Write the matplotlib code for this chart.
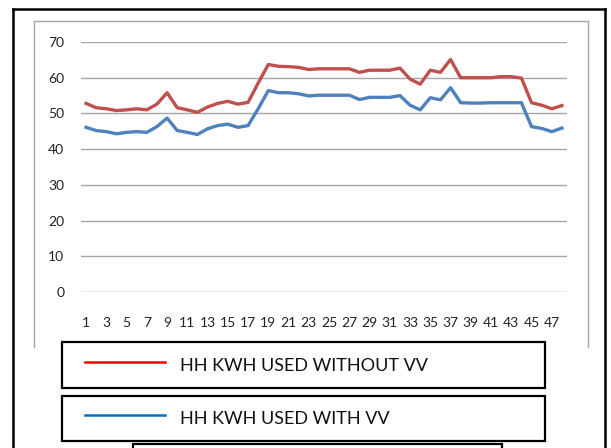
import numpy as np
import matplotlib
matplotlib.use('Agg')
import matplotlib.pyplot as plt
from matplotlib.lines import Line2D
from matplotlib.patches import Rectangle

plt.rcParams['font.family'] = ['Lato', 'DejaVu Sans']

# half-hour intervals 1..48
hours = np.arange(1, 49)
without_vv = [52.8, 51.6, 51.3, 50.8, 51.0, 51.3, 51.0, 52.6, 55.8, 51.6, 51.0, 50.3,
              51.8, 52.8, 53.4, 52.6, 53.1, 58.5, 63.7, 63.2, 63.1, 62.9, 62.3, 62.5,
              62.5, 62.5, 62.5, 61.5, 62.1, 62.1, 62.1, 62.7, 59.6, 58.2, 62.1, 61.5,
              65.1, 60.0, 60.0, 60.0, 60.0, 60.3, 60.3, 59.9, 53.0, 52.3, 51.3, 52.2]
with_vv = [46.1, 45.2, 44.9, 44.3, 44.7, 44.9, 44.7, 46.3, 48.7, 45.2, 44.7, 44.1,
           45.7, 46.6, 47.0, 46.1, 46.6, 51.3, 56.4, 55.8, 55.8, 55.5, 54.9, 55.1,
           55.1, 55.1, 55.1, 53.9, 54.5, 54.5, 54.5, 55.0, 52.3, 51.0, 54.4, 53.8,
           57.2, 53.0, 52.9, 52.9, 53.0, 53.0, 53.0, 53.0, 46.3, 45.8, 44.9, 45.9]
labels = ['HH KWH USED WITHOUT VV', 'HH KWH USED WITH VV']
yticks = [0, 10, 20, 30, 40, 50, 60, 70]

W, H = 611, 448
fig = plt.figure(figsize=(W / 100, H / 100), dpi=100)


def fx(px):
    return px / W


def fy(py):
    return 1 - py / H


ax = fig.add_axes([fx(81), fy(292), fx(567) - fx(81), fy(42) - fy(292)])
ax.plot(hours, without_vv, color='#C0504D', lw=2.4, solid_joinstyle='round')
ax.plot(hours, with_vv, color='#4F81BD', lw=2.4, solid_joinstyle='round')
ax.set_xlim(0.5, 48.5)
ax.set_ylim(0, 70)
ax.set_yticks(yticks)
ax.set_xticks(hours[::2])
ax.set_xticklabels([str(h) for h in hours[::2]])
ax.grid(axis='y', color='#a6a6a6', lw=1)
ax.set_axisbelow(True)
for s in ax.spines.values():
    s.set_visible(False)
ax.tick_params(axis='both', length=0, labelsize=10, colors='#222222')
ax.tick_params(axis='x', pad=18)
ax.tick_params(axis='y', pad=12)

# chart area frame (gray) and outer border (black)
for xs, ys in [((34, 34), (21, 347)), ((34, 588), (21, 21)), ((588, 588), (21, 347))]:
    fig.add_artist(Line2D([fx(x) for x in xs], [fy(y) for y in ys], color='#a6a6a6', lw=1))
for xs, ys in [((13, 13), (9, 460)), ((13, 605), (9, 9)), ((605, 605), (9, 460))]:
    fig.add_artist(Line2D([fx(x) for x in xs], [fy(y) for y in ys], color='black', lw=1.8))

# legend boxes
boxes = [(62, 342, 545, 388), (62, 396, 545, 441), (133, 444, 502, 470)]
for x0, y0, x1, y1 in boxes:
    fig.add_artist(Rectangle((fx(x0), fy(y1)), fx(x1) - fx(x0), fy(y0) - fy(y1),
                             fill=True, facecolor='white', edgecolor='black', lw=1.6))
for (yc, col, lab) in [(362, '#FF0000', labels[0]), (415, '#0070C0', labels[1])]:
    fig.add_artist(Line2D([fx(85), fx(165)], [fy(yc), fy(yc)], color=col, lw=1.8))
    fig.text(fx(180), fy(yc + 4), lab, fontsize=13, va='center', ha='left', color='#111111')

fig.savefig('out.png', dpi=100)
